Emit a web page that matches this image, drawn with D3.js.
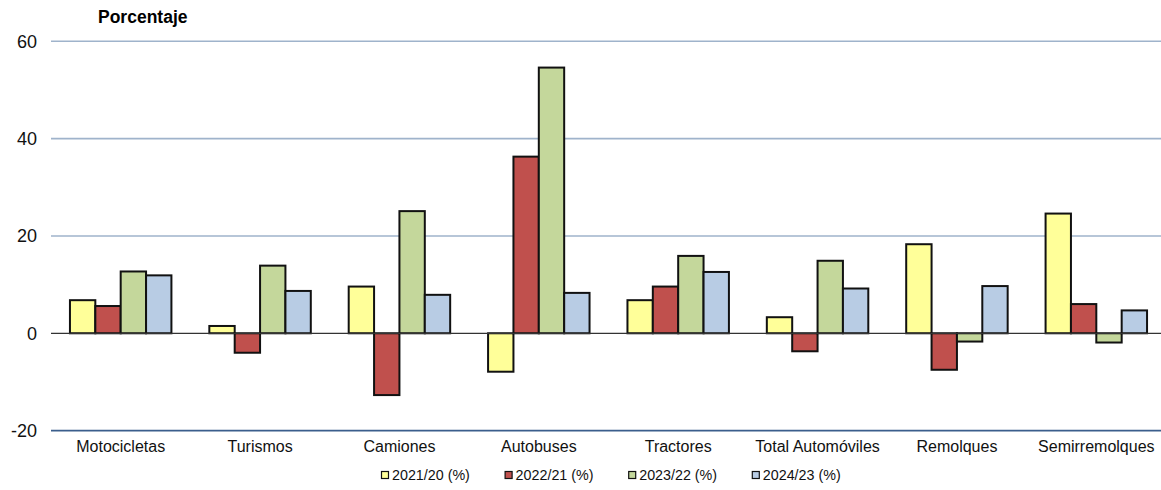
<!DOCTYPE html>
<html lang="es">
<head>
<meta charset="utf-8">
<script src="https://cdn.jsdelivr.net/npm/d3@7"></script>
<style>
  html, body { margin: 0; padding: 0; background: #fff; }
  svg { display: block; font-family: "Liberation Sans", Arial, sans-serif; }
</style>
</head>
<body>
<svg id="chart" width="1161" height="490"></svg>
<script>
// Variación interanual de matriculaciones por tipo de vehículo (%)
const categories = ["Motocicletas", "Turismos", "Camiones", "Autobuses", "Tractores", "Total Automóviles", "Remolques", "Semirremolques"];
const seriesNames = ["2021/20 (%)", "2022/21 (%)", "2023/22 (%)", "2024/23 (%)"];
const values2021 = [6.8, 1.5, 9.6, -7.9, 6.8, 3.3, 18.3, 24.6];
const values2022 = [5.6, -4.0, -12.7, 36.3, 9.6, -3.7, -7.5, 6.0];
const values2023 = [12.7, 13.9, 25.1, 54.6, 15.9, 14.9, -1.7, -1.9];
const values2024 = [11.9, 8.7, 7.9, 8.3, 12.6, 9.2, 9.7, 4.7];
const yTicks = [-20, 0, 20, 40, 60];
const colors = ["#FFFF99", "#C0504D", "#C4D79B", "#B8CCE4"];

const seriesValues = [values2021, values2022, values2023, values2024];
const table = categories.map((c, i) => ({ category: c, values: seriesValues.map(s => s[i]) }));

const svg = d3.select("#chart");
const plotLeft = 51, plotRight = 1166, plotTop = 41.3, plotBottom = 430.6;

const x = d3.scaleBand().domain(categories).range([plotLeft, plotRight]).paddingInner(0.272).paddingOuter(0.136);
const xs = d3.scaleBand().domain(d3.range(seriesNames.length)).range([0, x.bandwidth()]);
const y = d3.scaleLinear().domain([-20, 60]).range([plotBottom, plotTop]);

// horizontal gridlines
svg.append("g").selectAll("line").data(yTicks.filter(t => t > 0)).join("line")
  .attr("x1", plotLeft).attr("x2", 1161)
  .attr("y1", d => y(d)).attr("y2", d => y(d))
  .attr("stroke", "#9FB3CB").attr("stroke-width", 1.6);

// bottom line at -20
svg.append("line")
  .attr("x1", plotLeft).attr("x2", 1161)
  .attr("y1", y(-20)).attr("y2", y(-20))
  .attr("stroke", "#3B5E8C").attr("stroke-width", 1.6);

// y tick labels (plain hyphen for negatives)
const yAxis = d3.axisLeft(y).tickValues(yTicks).tickSize(0).tickPadding(14).tickFormat(d => String(d));
const yg = svg.append("g").attr("transform", `translate(${plotLeft},0)`).call(yAxis);
yg.select(".domain").remove();
yg.selectAll("text").attr("font-size", 18).attr("fill", "#111").attr("font-family", "Liberation Sans, Arial, sans-serif");

// bars
const groups = svg.append("g").selectAll("g").data(table).join("g")
  .attr("transform", d => `translate(${x(d.category)},0)`);
groups.selectAll("rect").data(d => d.values.map((v, k) => ({ v, k }))).join("rect")
  .attr("x", d => xs(d.k))
  .attr("width", xs.bandwidth())
  .attr("y", d => y(Math.max(0, d.v)))
  .attr("height", d => Math.abs(y(d.v) - y(0)))
  .attr("fill", d => colors[d.k])
  .attr("stroke", "#111")
  .attr("stroke-width", 2);

// zero line
svg.append("line")
  .attr("x1", plotLeft).attr("x2", 1161)
  .attr("y1", y(0)).attr("y2", y(0))
  .attr("stroke", "#333").attr("stroke-width", 1.3);

// category labels
const xAxis = d3.axisBottom(x).tickSize(0).tickPadding(10);
const xg = svg.append("g").attr("transform", `translate(0,${plotBottom})`).call(xAxis);
xg.select(".domain").remove();
xg.selectAll("text").attr("font-size", 16).attr("fill", "#111").attr("font-family", "Liberation Sans, Arial, sans-serif");

// title
svg.append("text").attr("x", 98).attr("y", 23)
  .attr("font-size", 17.5).attr("font-weight", "bold").attr("fill", "#000")
  .text("Porcentaje");

// legend
const legend = svg.append("g").attr("transform", "translate(381,471)");
const items = legend.selectAll("g").data(seriesNames).join("g")
  .attr("transform", (d, i) => `translate(${i * 123.6},0)`);
items.append("rect").attr("x", 0.5).attr("y", 0.5).attr("width", 7).attr("height", 7)
  .attr("fill", (d, i) => colors[i]).attr("stroke", "#111").attr("stroke-width", 1.2);
items.append("text").attr("x", 11).attr("y", 9)
  .attr("font-size", 14.3).attr("fill", "#111").text(d => d);
</script>
</body>
</html>
